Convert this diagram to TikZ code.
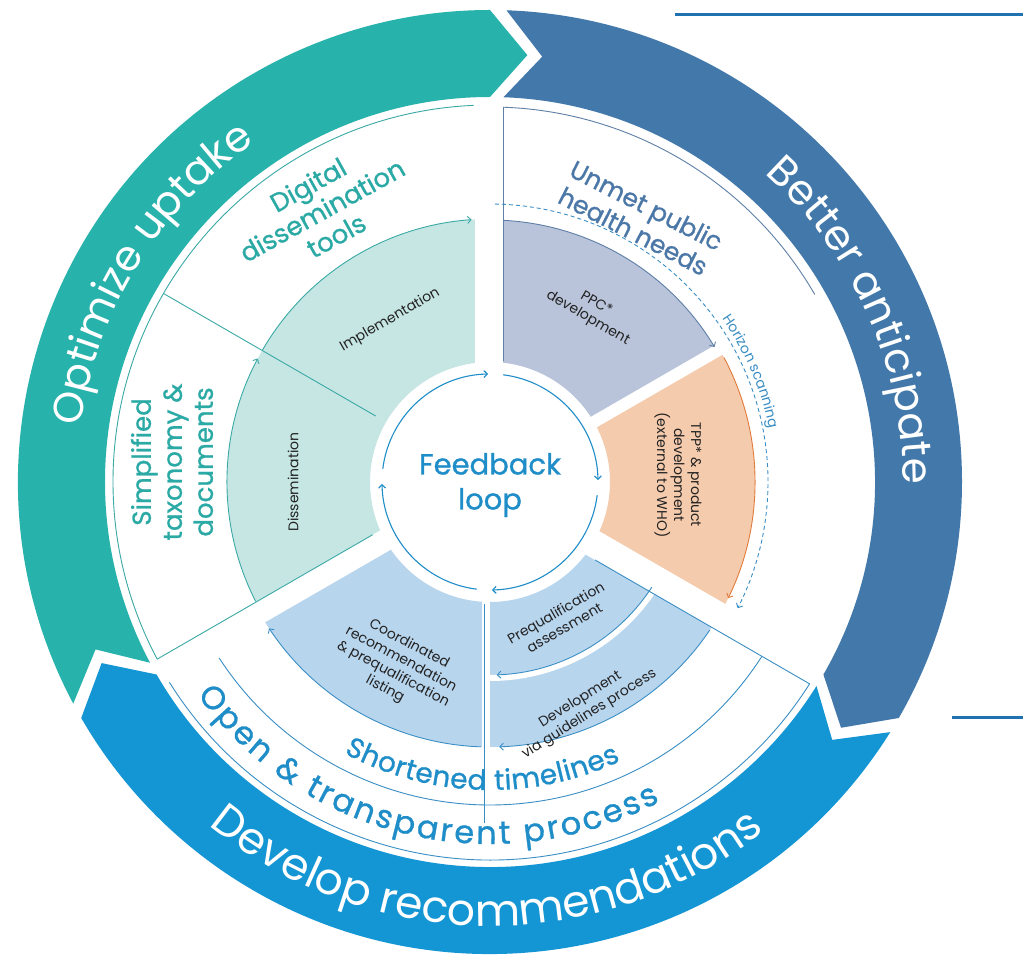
\documentclass[tikz,border=0pt]{standalone}
\usepackage{fontspec}
\setmainfont{Poppins}
\newfontfamily\medfont{Poppins}[FakeBold=0.9]
\usetikzlibrary{decorations.text,arrows.meta}
\definecolor{ringteal}{HTML}{27B2AC}
\definecolor{ringdark}{HTML}{4278AA}
\definecolor{ringblue}{HTML}{1596D4}
\definecolor{fillteal}{HTML}{C6E6E4}
\definecolor{fillppc}{HTML}{B9C4DB}
\definecolor{filltpp}{HTML}{F5CBAD}
\definecolor{fillblue}{HTML}{B8D5EE}
\definecolor{lineteal}{HTML}{3AA9A5}
\definecolor{lineslate}{HTML}{5E7FA6}
\definecolor{lineblue}{HTML}{3A8EC4}
\definecolor{lineorange}{HTML}{E07B3C}
\definecolor{txtteal}{HTML}{2BA9A5}
\definecolor{txtslate}{HTML}{4C78A8}
\definecolor{txtblue}{HTML}{1E8DC8}
\definecolor{barblue}{HTML}{1F72AF}
\definecolor{txtdark}{HTML}{222222}
\newcommand{\annsec}[5]{\fill[#1] (#2:#4) arc[start angle=#2,end angle=#3,radius=#4] -- (#3:#5) arc[start angle=#3,end angle=#2,radius=#5] -- cycle;}
\tikzset{
  outline/.style={line width=0.9pt},
  arrowend/.style={-{Straight Barb[length=3.5pt,width=7pt]}},
  smalltxt/.style={font=\fontsize{14}{17}\selectfont, text=txtdark, align=center, inner sep=0pt},
  headtxt/.style={font=\medfont\fontsize{26}{29}\selectfont, align=center, inner sep=0pt},
  gapband/.style={draw=white},
}
\begin{document}
\begin{tikzpicture}[x=1pt,y=1pt]
\useasboundingbox (-490,-476) rectangle (533,482);
\fill[white] (-490,-476) rectangle (533,482);

% outer ring arrows
\fill[ringteal] (208:472pt) arc[start angle=208,end angle=90,radius=472pt] -- (85:428.5pt) -- (90:385pt) arc[start angle=90,end angle=208,radius=385pt] -- (203:428.5pt) -- cycle;
\fill[ringdark] (88:472pt) arc[start angle=88,end angle=-30,radius=472pt] -- (-35:428.5pt) -- (-30:385pt) arc[start angle=-30,end angle=88,radius=385pt] -- (83:428.5pt) -- cycle;
\fill[ringblue] (-32:472pt) arc[start angle=-32,end angle=-150,radius=472pt] -- (-155:428.5pt) -- (-150:385pt) arc[start angle=-150,end angle=-32,radius=385pt] -- (-37:428.5pt) -- cycle;

% ring texts
\path[decorate, decoration={text along path, text align=center, text={|\fontsize{42}{42}\selectfont\color{white}|Optimize uptake}}] (198.5:413pt) arc[start angle=198.5,end angle=98.5,radius=413pt];
\path[decorate, decoration={text along path, text align=center, text={|\fontsize{42}{42}\selectfont\color{white}|Better anticipate}}] (74:413pt) arc[start angle=74,end angle=-26,radius=413pt];
\path[decorate, decoration={text along path, text align=center, text={|\fontsize{44}{44}\selectfont\color{white}|Develop recommendations}}] (209.5:444pt) arc[start angle=209.5,end angle=329.5,radius=444pt];

% coloured sectors
\annsec{fillteal}{90}{150}{120pt}{263pt}
\annsec{fillteal}{150}{210}{120pt}{263pt}
\annsec{fillppc}{30}{90}{120pt}{262pt}
\annsec{filltpp}{-30}{30}{120pt}{265pt}
\annsec{fillblue}{-90}{-30}{120pt}{265pt}
\annsec{fillblue}{210}{270}{120pt}{265pt}

% white gaps between sectors
\begin{scope}[rotate=90]\draw[gapband, line width=28pt] (110,1) -- (280,1);\end{scope}
\begin{scope}[rotate=30]\draw[gapband, line width=12pt] (110,0) -- (280,0);\end{scope}
\begin{scope}[rotate=-30]\draw[gapband, line width=27pt] (110,-1.5) -- (280,-1.5);\end{scope}
\begin{scope}[rotate=-90]\draw[gapband, line width=8pt] (110,-4) -- (280,-4);\end{scope}
\begin{scope}[rotate=210]\draw[gapband, line width=22pt] (110,-2) -- (280,-2);\end{scope}
\draw[gapband, line width=6pt] (-29:196pt) arc[start angle=-29,end angle=-91,radius=196pt];

% outlines: optimize sector
\draw[lineteal, outline] (92.5:377pt) arc[start angle=92.5,end angle=208,radius=377pt];
\draw[lineteal, outline] (150:377pt) -- (150:132pt);
\begin{scope}[rotate=210]\draw[lineteal, outline] (128,-13) -- (377,-13);\end{scope}
% outlines: anticipate sector
\draw[lineslate, outline] (13,375) -- (13,121);
\draw[lineslate, outline] (88:375pt) arc[start angle=88,end angle=30,radius=375pt];
% outlines: recommendations sector
\begin{scope}[rotate=-30]\draw[lineblue, outline] (130,-15) -- (378,-15);\end{scope}
\draw[lineblue, outline] (213:323pt) arc[start angle=213,end angle=327.3,radius=323pt];
\draw[lineblue, outline] (212:378pt) arc[start angle=212,end angle=327.7,radius=378pt];
\draw[lineblue, outline] (-6,-122) -- (-6,-341);

% sector edge arcs with arrows
\draw[lineteal, outline, arrowend] (150:263pt) arc[start angle=150,end angle=94,radius=263pt];
\draw[lineteal, outline, arrowend] (207:263pt) arc[start angle=207,end angle=152,radius=263pt];
\draw[lineslate, outline, arrowend] (87:262pt) arc[start angle=87,end angle=31,radius=262pt];
\draw[lineorange, outline, arrowend] (28:265pt) arc[start angle=28,end angle=-26,radius=265pt];
\draw[lineblue, outline, arrowend] (-33:193pt) arc[start angle=-33,end angle=-88,radius=193pt];
\draw[lineblue, outline, arrowend] (-34:265pt) arc[start angle=-34,end angle=-88,radius=265pt];
\draw[lineblue, outline, arrowend] (-92:265pt) arc[start angle=-92,end angle=-146.5,radius=265pt];

% horizon scanning dashed arc
\draw[lineblue, outline, dash pattern=on 4pt off 3pt, arrowend] (89:278pt) arc[start angle=89,end angle=-27,radius=278pt];
\path[decorate, decoration={text along path, text align=center, text={|\fontsize{14}{14}\selectfont\color{lineblue}|Horizon scanning}}] (43:284pt) arc[start angle=43,end angle=3,radius=284pt];

% feedback loop arcs
\draw[txtblue, line width=1.1pt, arrowend] (173:108pt) arc[start angle=173,end angle=91,radius=108pt];
\draw[txtblue, line width=1.1pt, arrowend] (83:108pt) arc[start angle=83,end angle=1,radius=108pt];
\draw[txtblue, line width=1.1pt, arrowend] (-7:108pt) arc[start angle=-7,end angle=-89,radius=108pt];
\draw[txtblue, line width=1.1pt, arrowend] (-97:108pt) arc[start angle=-97,end angle=-179,radius=108pt];

% inner arc texts
\path[decorate, decoration={text along path, text align=fit to path, text={|\medfont\fontsize{28}{28}\selectfont\color{txtblue}|Shortened timelines}}] (241.7:308pt) arc[start angle=241.7,end angle=295.1,radius=308pt];
\path[decorate, decoration={text along path, text align=fit to path, text={|\medfont\fontsize{32}{32}\selectfont\color{txtblue}|Open {\&} transparent process}}] (216:362pt) arc[start angle=216,end angle=298,radius=362pt];

% headings
\node[headtxt, text=txtblue, font=\medfont\fontsize{29}{35}\selectfont] (fb) at (0,-3) {Feedback\\loop};
\node[headtxt, text=txtteal, rotate=29] (digital) at (-168,272) {Digital\\dissemination\\tools};
\node[headtxt, text=txtteal, rotate=90, font=\medfont\fontsize{26}{31}\selectfont] (simpl) at (-318,20) {Simplified\\taxonomy \&\\documents};
\node[headtxt, text=txtslate, rotate=-27, font=\medfont\fontsize{25}{29}\selectfont] (unmet) at (150,264) {Unmet public\\health needs};

% small texts
\node[smalltxt, rotate=30] (impl) at (-100,162) {Implementation};
\node[smalltxt, rotate=90] (diss) at (-197,0) {Dissemination};
\node[smalltxt, rotate=-30] (ppc) at (102,171) {PPC*\\development};
\node[smalltxt, rotate=-90] (tpp) at (188,7) {TPP* \& product\\development\\(external to WHO)};
\node[smalltxt, rotate=30] (preq) at (70,-138) {Prequalification\\assessment};
\node[smalltxt, rotate=32] (devg) at (95,-225) {Development\\via guidelines process};
\node[smalltxt, rotate=-28] (coord) at (-93,-185) {Coordinated\\recommendation\\\& prequalification\\listing};

% right-hand bars
\coordinate (barA1) at (185,467);
\coordinate (barA2) at (533,467);
\coordinate (barB1) at (462,-235);
\coordinate (barB2) at (533,-235);
\draw[barblue, line width=3pt] (barA1) -- (barA2);
\draw[barblue, line width=3pt] (barB1) -- (barB2);
\end{tikzpicture}
\end{document}
